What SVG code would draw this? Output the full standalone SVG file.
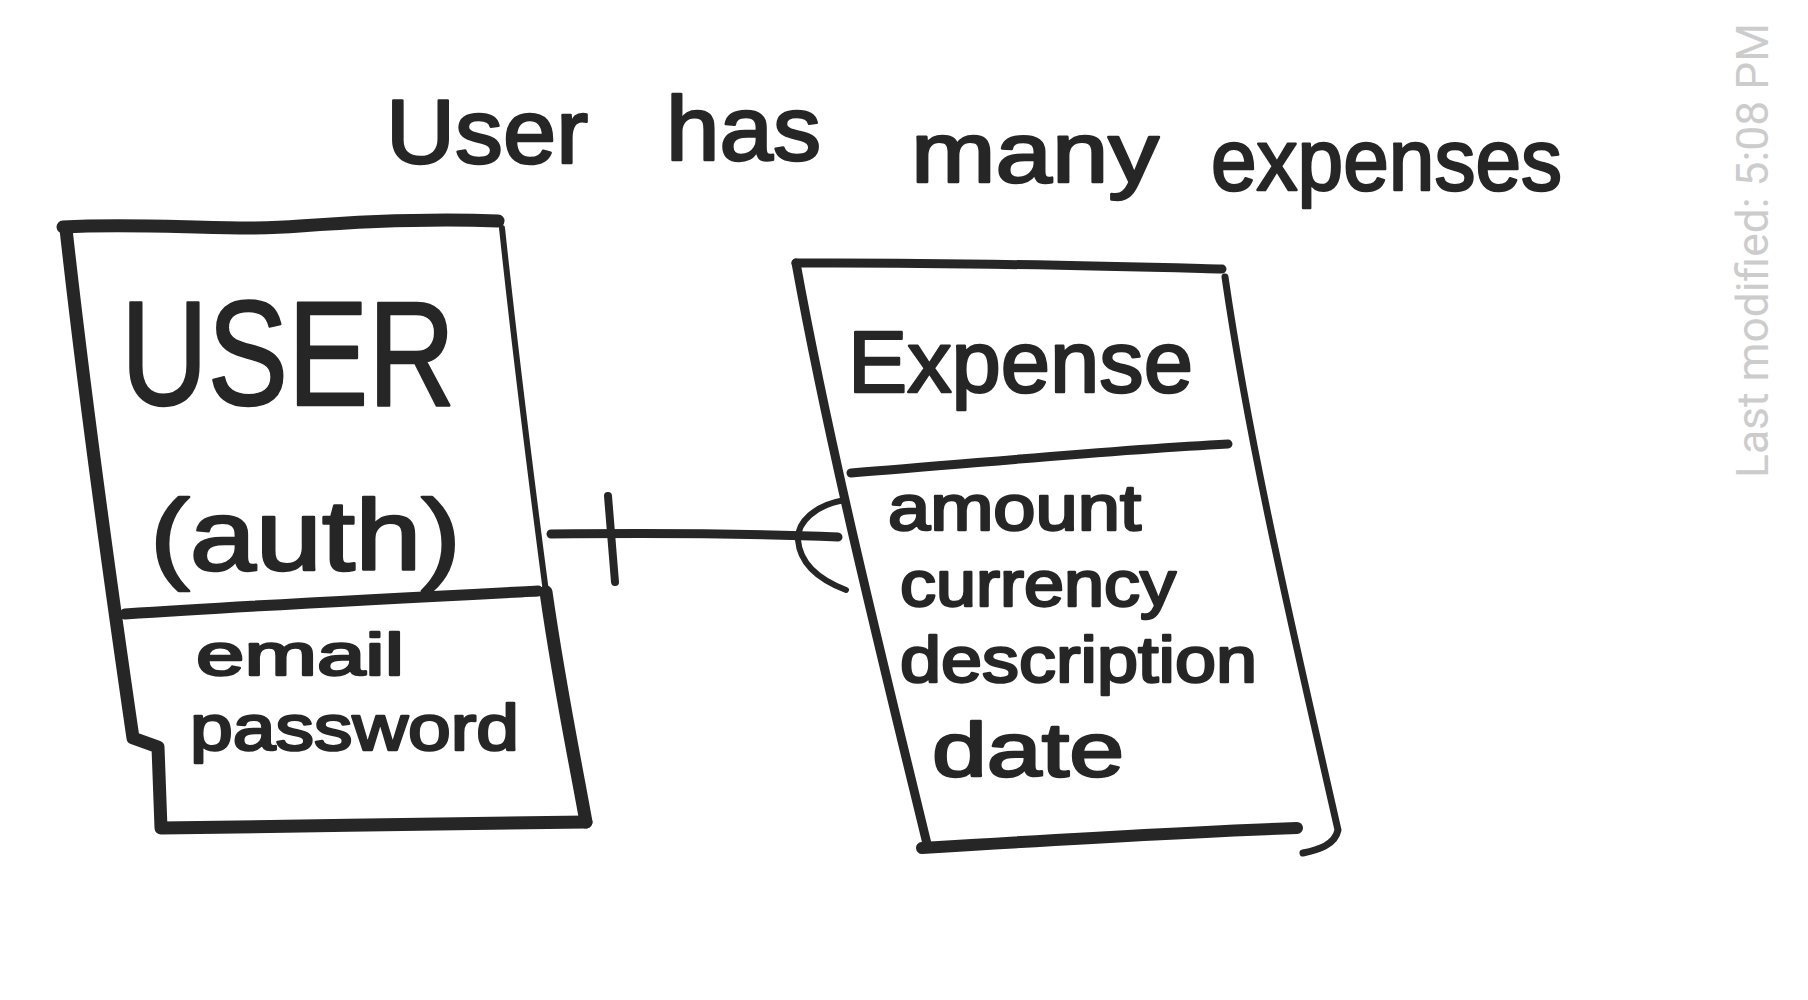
<svg xmlns="http://www.w3.org/2000/svg" width="1808" height="1000" viewBox="0 0 1808 1000">
<style>
.ink{fill:none;stroke:#262626;stroke-linecap:round;stroke-linejoin:round}
.hw{font-family:"Liberation Sans","DejaVu Sans",sans-serif;fill:#262626;stroke:#262626;stroke-width:2.5;stroke-linejoin:round}
.meta{font-family:Roboto,"Liberation Sans",sans-serif;fill:#cccccc}
</style>
<rect width="1808" height="1000" fill="#ffffff"/>
<g id="title">
<text class="hw" x="386" y="163" font-size="90" textLength="202" lengthAdjust="spacingAndGlyphs">User</text>
<text class="hw" x="666" y="160" font-size="90" textLength="155" lengthAdjust="spacingAndGlyphs">has</text>
<text class="hw" x="911" y="182" font-size="86" textLength="248" lengthAdjust="spacingAndGlyphs">many</text>
<text class="hw" x="1211" y="190" font-size="88" textLength="351" lengthAdjust="spacingAndGlyphs">expenses</text>
</g>
<g id="user">
<path class="ink" stroke-width="13" d="M63 227 C150 222 230 232 300 226 C380 220 450 219 498 221"/>
<path class="ink" stroke-width="6" d="M502 228 C515 350 530 470 546 592"/>
<path class="ink" stroke-width="13" d="M546 592 C560 690 575 760 586 822"/>
<path class="ink" stroke-width="13" d="M66 229 C85 400 110 580 133 738 L158 747 L161 828 C300 826 450 824 586 822"/>
<path class="ink" stroke-width="11" d="M125 614 C260 605 400 598 538 591"/>
<text class="hw" x="121" y="405" font-size="148" textLength="334" lengthAdjust="spacingAndGlyphs">USER</text>
<text class="hw" x="150" y="570" font-size="100" textLength="311" lengthAdjust="spacingAndGlyphs">(auth)</text>
<text class="hw" x="196" y="675" font-size="60" textLength="208" lengthAdjust="spacingAndGlyphs">email</text>
<text class="hw" x="190" y="750" font-size="64" textLength="329" lengthAdjust="spacingAndGlyphs">password</text>
</g>
<g id="expense">
<path class="ink" stroke-width="9" d="M796 263 C950 262 1100 266 1222 269"/>
<path class="ink" stroke-width="9" d="M796 263 C830 450 880 650 928 848"/>
<path class="ink" stroke-width="7" d="M1225 277 C1250 450 1295 640 1338 830 C1335 845 1318 850 1303 853"/>
<path class="ink" stroke-width="12" d="M922 848 C1050 840 1180 832 1297 828"/>
<path class="ink" stroke-width="9" d="M851 473 C980 463 1110 450 1228 444"/>
<text class="hw" x="848" y="392" font-size="88" textLength="345" lengthAdjust="spacingAndGlyphs">Expense</text>
<text class="hw" x="888" y="530" font-size="64" textLength="253" lengthAdjust="spacingAndGlyphs">amount</text>
<text class="hw" x="900" y="606" font-size="64" textLength="276" lengthAdjust="spacingAndGlyphs">currency</text>
<text class="hw" x="900" y="682" font-size="64" textLength="357" lengthAdjust="spacingAndGlyphs">description</text>
<text class="hw" x="932" y="776" font-size="76" textLength="192" lengthAdjust="spacingAndGlyphs">date</text>
</g>
<g id="connectors">
<path class="ink" stroke-width="9" d="M551 534 C650 533 740 533 838 537"/>
<path class="ink" stroke-width="8" d="M608 496 L615 582"/>
<path class="ink" stroke-width="6" d="M845 500 C815 505 797 522 798 540 C800 565 820 580 846 590"/>
</g>
<g id="meta">
<text class="meta" transform="translate(1768,478) rotate(-90)" font-size="44" textLength="455" lengthAdjust="spacingAndGlyphs">Last modified: 5:08 PM</text>
</g>
</svg>
